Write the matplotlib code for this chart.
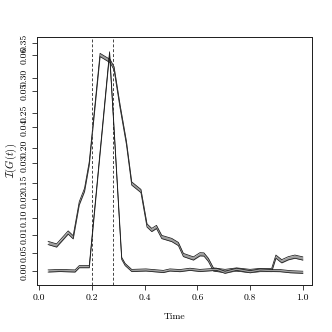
import matplotlib
matplotlib.use("Agg")
import matplotlib.pyplot as plt
import numpy as np

plt.rcParams['font.family'] = ['cmr10', 'DejaVu Serif']
plt.rcParams['mathtext.fontset'] = 'cm'
plt.rcParams['axes.unicode_minus'] = False

# ---- data ----
x_upper = [0.034, 0.066, 0.110, 0.129, 0.152, 0.172, 0.190, 0.231, 0.256, 0.269,
           0.284, 0.307, 0.331, 0.351, 0.386, 0.409, 0.427, 0.445, 0.465, 0.503,
           0.528, 0.547, 0.585, 0.610, 0.625, 0.642, 0.661, 0.705, 0.749, 0.800,
           0.838, 0.882, 0.898, 0.920, 0.945, 0.970, 1.000]
y_upper = [0.0647, 0.0611, 0.0796, 0.0728, 0.1212, 0.1402, 0.1782, 0.3325, 0.3268, 0.3239,
           0.3135, 0.2588, 0.2071, 0.1494, 0.1387, 0.0896, 0.0832, 0.0875, 0.0732, 0.0689,
           0.0632, 0.0476, 0.0426, 0.0486, 0.0483, 0.0405, 0.0269, 0.0248, 0.0269, 0.0248,
           0.0262, 0.0262, 0.0452, 0.0386, 0.0429, 0.0452, 0.0426]

x_lower = [0.034, 0.079, 0.136, 0.152, 0.190, 0.267, 0.313, 0.326, 0.351, 0.405,
           0.471, 0.496, 0.534, 0.572, 0.610, 0.673, 0.705, 0.749, 0.800, 0.838,
           0.876, 0.914, 0.952, 1.000]
y_lower = [0.0000, 0.00014, 0.0000, 0.0012, 0.0012, 0.0606, 0.0035, 0.0018, 0.00014, 0.00028,
           -0.00014, 0.00028, 0.0001, 0.00047, 0.00014, 0.00047, -0.00036, 0.00047, -0.0002, 0.00028,
           0.00014, 0.0001, -0.0002, -0.00036]

vlines = [0.2, 0.28]

x_ticks = [0.0, 0.2, 0.4, 0.6, 0.8, 1.0]
x_ticklabels = ["0.0", "0.2", "0.4", "0.6", "0.8", "1.0"]
yA_ticks = [0.05, 0.10, 0.15, 0.20, 0.25, 0.30, 0.35]
yA_ticklabels = ["0.05", "0.10", "0.15", "0.20", "0.25", "0.30", "0.35"]
yB_ticks = [0.00, 0.01, 0.02, 0.03, 0.04, 0.05, 0.06]
yB_ticklabels = ["0.00", "0.01", "0.02", "0.03", "0.04", "0.05", "0.06"]

# band half widths (style)
dA = 0.0023
dB = 0.00030

fig = plt.figure(figsize=(3.32, 3.32), dpi=100)
ax = fig.add_axes([0.1123, 0.1416, 0.8283, 0.7479])
ax2 = ax.twinx()
ax2.set_position(ax.get_position())

fs = 7

def band(a, xs, ys, d):
    xs = np.asarray(xs); ys = np.asarray(ys)
    a.fill_between(xs, ys - d, ys + d, color='#a0a0a0', lw=0)
    a.plot(xs, ys - d, color='#1a1a1a', lw=0.55)
    a.plot(xs, ys + d, color='#1a1a1a', lw=0.55)

band(ax, x_upper, y_upper, dA)
band(ax2, x_lower, y_lower, dB)

for v in vlines:
    ax.axvline(v, color='#444444', lw=0.7, ls=(0, (3, 2)))

ax.set_xlim(-0.0072, 1.036)
ax.set_ylim(0.004843, 0.358547)
ax2.set_ylim(-0.003889, 0.065083)

ax.set_xticks(x_ticks)
ax.set_xticklabels(x_ticklabels, fontsize=fs)
ax.set_yticks(yA_ticks)
ax.set_yticklabels(yA_ticklabels, fontsize=fs, rotation=90, va='center')
ax2.yaxis.tick_left()
ax2.set_yticks(yB_ticks)
ax2.set_yticklabels(yB_ticklabels, fontsize=fs, rotation=90, va='center')

for a in (ax, ax2):
    a.tick_params(axis='both', length=3.5, width=0.6, pad=3.0, color='#222222')
    for s in a.spines.values():
        s.set_linewidth(0.7)
        s.set_color('#222222')

ax.set_xlabel("Time", fontsize=fs, labelpad=7)
ax.set_ylabel(r"$\mathcal{I}(G(t))$", fontsize=fs + 0.5, labelpad=0.5)

fig.savefig("out.png", dpi=100)
